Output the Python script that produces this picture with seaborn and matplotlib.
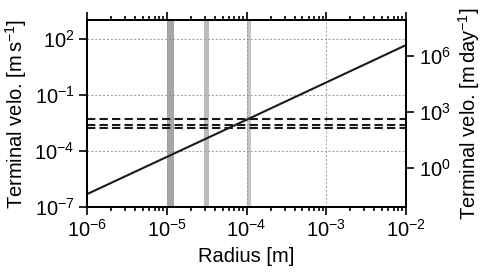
import matplotlib
matplotlib.use('Agg')
import matplotlib.pyplot as plt
import seaborn as sns
from matplotlib.ticker import LogLocator, NullLocator

# data
radius = [1e-6, 1e-5, 1e-4, 1e-3, 1e-2]           # m
velo = [4.8e-7, 4.7e-5, 4.6e-3, 0.46, 46.0]        # m/s
dash_velo = [5.2e-3, 2.45e-3, 1.6e-3]              # m/s
bands = [(1.0e-5, 1.22e-5), (2.94e-5, 3.4e-5), (1.0e-4, 1.12e-4)]
band_colors = ['#a6a6a6', '#bcbcbc', '#c4c4c4']
sec_per_day = 86400.0

sns.set_style('ticks')
plt.rcParams['font.family'] = ['Liberation Sans', 'DejaVu Sans']
plt.rcParams['mathtext.fontset'] = 'custom'
plt.rcParams['mathtext.rm'] = 'Liberation Sans'
plt.rcParams['mathtext.it'] = 'Liberation Sans:italic'
plt.rcParams['font.size'] = 14.5

fig = plt.figure(figsize=(4.84, 2.75), dpi=100)
ax = fig.add_axes([0.180, 0.248, 0.659, 0.679])
ax.set_xscale('log')
ax.set_yscale('log')

for (x0, x1), c in zip(bands, band_colors):
    ax.axvspan(x0, x1, color=c, lw=0, zorder=1)

for v in dash_velo:
    ax.axhline(v, color='#1a1a1a', ls=(0, (4, 2)), lw=1.5, zorder=3)

sns.lineplot(x=radius, y=velo, ax=ax, color='#1a1a1a', lw=1.5, zorder=4)

ax.set_xlim(1e-6, 1e-2)
ax.set_ylim(1e-7, 1e3)
ax.set_yticks([1e-7, 1e-4, 1e-1, 1e2])
ax.yaxis.set_minor_locator(NullLocator())
ax.xaxis.set_major_locator(LogLocator(base=10, numticks=10))
ax.xaxis.set_minor_locator(LogLocator(base=10, subs=range(2, 10), numticks=10))
ax.grid(True, which='major', color='#999999', ls=(0, (2, 2)), lw=0.7, zorder=2)
ax.set_axisbelow(False)

ax.tick_params(which='both', direction='out', top=True, width=1.2, color='black',
               labelsize=14.5, labelcolor='black')
ax.tick_params(which='major', length=5.5)
ax.tick_params(which='minor', length=3)
for s in ax.spines.values():
    s.set_linewidth(1.4)
    s.set_color('black')

ax.set_xlabel('Radius [m]', fontsize=14.5, color='black')
ax.set_ylabel(r'Terminal velo. [m$\,$s$^{-1}$]', fontsize=14.5, color='black')

ax2 = ax.twinx()
ax2.set_yscale('log')
ax2.set_ylim(1e-7 * sec_per_day, 1e3 * sec_per_day)
ax2.set_yticks([1e0, 1e3, 1e6])
ax2.yaxis.set_minor_locator(NullLocator())
ax2.tick_params(which='both', direction='out', width=1.2, length=5.5, color='black',
                labelsize=14.5, labelcolor='black')
for s in ax2.spines.values():
    s.set_linewidth(1.4)
    s.set_color('black')
ax2.set_ylabel(r'Terminal velo. [m$\,$day$^{-1}$]', fontsize=14.5, color='black')

fig.savefig('out.png', dpi=100)
